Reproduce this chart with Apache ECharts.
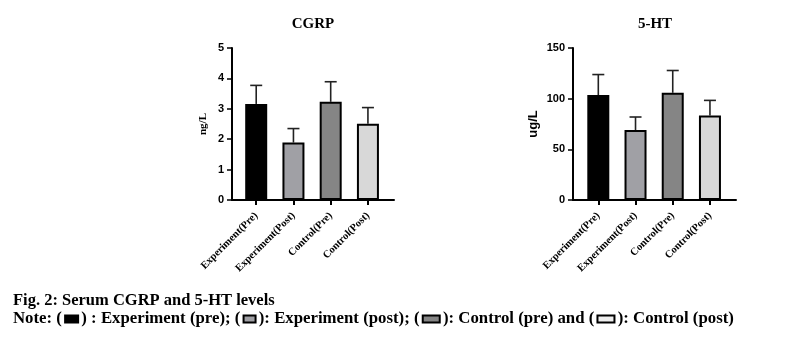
<!DOCTYPE html>
<html>
<head>
<meta charset="utf-8">
<script src="https://cdn.jsdelivr.net/npm/echarts@6/dist/echarts.min.js"></script>
<style>
  html, body { margin: 0; padding: 0; background: #fff; }
  #chart { width: 788px; height: 349px; }
</style>
</head>
<body>
<div id="chart"></div>
<script>
// Groups shown on both panels
const categories = ['Experiment(Pre)', 'Experiment(Post)', 'Control(Pre)', 'Control(Post)'];
const barColors = ['#000000', '#a0a0a5', '#858585', '#d8d8d8'];

// CGRP (ng/L): mean and SD
const cgrpMean = [3.16, 1.89, 3.23, 2.51];
const cgrpSd = [0.61, 0.46, 0.66, 0.53];

// 5-HT (ug/L): mean and SD
const htMean = [103.5, 69.1, 105.8, 83.5];
const htSd = [20.3, 12.8, 22.0, 14.8];

// Y axis tick settings
const cgrpTicks = { min: 0, max: 5, interval: 1 };
const htTicks = { min: 0, max: 150, interval: 50 };

const SERIF = '"Liberation Serif", "Times New Roman", serif';
const SANS = '"Liberation Sans", Arial, sans-serif';

const chart = echarts.init(document.getElementById('chart'), null, { renderer: 'canvas' });

function xAxisFor(gridIndex, min, max) {
  return {
    type: 'value', gridIndex, min, max,
    axisLine: { show: true, onZero: false, lineStyle: { color: '#000', width: 2 } },
    axisTick: { show: true, customValues: [0, 1, 2, 3], length: 5, lineStyle: { color: '#000', width: 2 } },
    axisLabel: {
      customValues: [0, 1, 2, 3], rotate: 45, margin: 14,
      formatter: v => categories[Math.round(v)] || '',
      fontFamily: SERIF, fontWeight: 'bold', fontSize: 10.5, color: '#000'
    },
    splitLine: { show: false }
  };
}

function yAxisFor(gridIndex, ticks, name, nameFont, nameSize, nameGap) {
  return {
    type: 'value', gridIndex, min: ticks.min, max: ticks.max, interval: ticks.interval,
    name, nameLocation: 'middle', nameGap,
    nameTextStyle: { fontFamily: nameFont, fontWeight: 'bold', fontSize: nameSize, color: '#000' },
    axisLine: { show: true, onZero: false, lineStyle: { color: '#000', width: 2 } },
    axisTick: { show: true, length: 5, lineStyle: { color: '#000', width: 1.5 } },
    axisLabel: { fontFamily: SANS, fontWeight: 'bold', fontSize: 11, color: '#000', margin: 8 },
    splitLine: { show: false }
  };
}

function barSeries(idx, means) {
  return {
    type: 'bar', xAxisIndex: idx, yAxisIndex: idx, barWidth: 22,
    data: means.map((m, i) => ({
      value: [i, m],
      itemStyle: { color: barColors[i], borderColor: '#000', borderWidth: 2 }
    })),
    z: 2
  };
}

function errorSeries(idx, means, sds) {
  return {
    type: 'custom', xAxisIndex: idx, yAxisIndex: idx, z: 1,
    data: means.map((m, i) => [i, m, m + sds[i]]),
    renderItem: function (params, api) {
      const base = api.coord([api.value(0), api.value(1)]);
      const top = api.coord([api.value(0), api.value(2)]);
      const half = 6;
      const style = { stroke: '#222', lineWidth: 1.6, fill: null };
      return {
        type: 'group',
        children: [
          { type: 'line', shape: { x1: base[0], y1: base[1], x2: top[0], y2: top[1] }, style },
          { type: 'line', shape: { x1: top[0] - half, y1: top[1], x2: top[0] + half, y2: top[1] }, style }
        ]
      };
    }
  };
}

const box = (fill, w) => ({
  width: w, height: 5, backgroundColor: fill, borderColor: '#000', borderWidth: 2
});

const option = {
  backgroundColor: '#fff',
  animation: false,
  grid: [
    { left: 232, top: 48, width: 162, height: 152 },
    { left: 573, top: 48, width: 163, height: 152 }
  ],
  xAxis: [xAxisFor(0, -0.65, 3.7), xAxisFor(1, -0.68, 3.7)],
  yAxis: [
    yAxisFor(0, cgrpTicks, 'ng/L', SERIF, 11, 23),
    yAxisFor(1, htTicks, 'ug/L', SANS, 13, 33)
  ],
  series: [
    errorSeries(0, cgrpMean, cgrpSd),
    barSeries(0, cgrpMean),
    errorSeries(1, htMean, htSd),
    barSeries(1, htMean)
  ],
  graphic: [
    { type: 'text', x: 313, y: 24, style: { text: 'CGRP', font: 'bold 15px ' + SERIF, fill: '#000', textAlign: 'center', textVerticalAlign: 'middle' } },
    { type: 'text', x: 655, y: 24, style: { text: '5-HT', font: 'bold 15px ' + SERIF, fill: '#000', textAlign: 'center', textVerticalAlign: 'middle' } },
    { type: 'text', x: 13, y: 301, style: { text: 'Fig. 2: Serum CGRP and 5-HT levels', font: 'bold 16.5px ' + SERIF, fill: '#000', textVerticalAlign: 'middle' } },
    {
      type: 'text', x: 13, y: 319,
      style: {
        text: 'Note: ( {a|} ) : Experiment (pre); ( {b|} ): Experiment (post); ( {c|} ): Control (pre) and ( {d|} ): Control (post)',
        font: 'bold 16.8px ' + SERIF, fill: '#000', textVerticalAlign: 'middle',
        rich: { a: box('#000', 11), b: box('#a0a0a5', 10), c: box('#858585', 15), d: box('#eeeeee', 15) }
      }
    }
  ]
};

chart.setOption(option);
</script>
</body>
</html>
